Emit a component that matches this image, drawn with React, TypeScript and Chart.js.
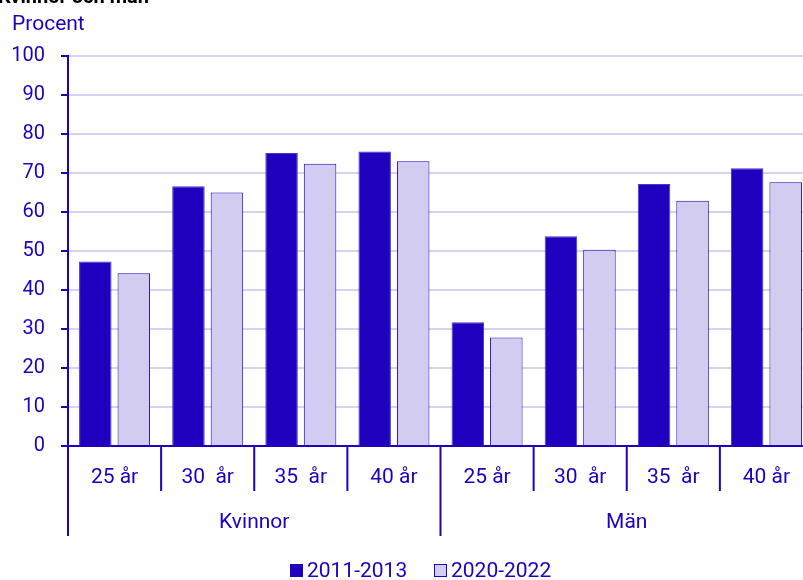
import React, { useEffect, useRef } from "react";
import { Chart, registerables } from "chart.js";

Chart.register(...registerables);

const chartTitle = "Kvinnor och män";
const yAxisTitle = "Procent";
const groups = ["Kvinnor", "Män"];
const ages = ["25 år", "30  år", "35  år", "40 år"];
const seriesNames = ["2011-2013", "2020-2022"];
const values2011 = [47.3, 66.6, 75.1, 75.5, 31.7, 53.8, 67.2, 71.2];
const values2020 = [44.3, 65.0, 72.4, 73.0, 27.8, 50.3, 62.9, 67.6];
const yTicks = [0, 10, 20, 30, 40, 50, 60, 70, 80, 90, 100];

const DARK = "#1e00be";
const LIGHT = "#d2cdf0";
const GRID = "#d6d3f2";
const FONT = "Roboto";

const categories = groups.flatMap((g) => ages.map((a) => `${g} ${a}`));

const customPlugin = {
  id: "custom",
  afterDraw(chart: any) {
    const ctx = chart.ctx;
    const x = chart.scales.x;
    const area = chart.chartArea;
    const n = categories.length;
    const half = (x.getPixelForValue(1) - x.getPixelForValue(0)) / 2;
    ctx.save();
    // title
    ctx.fillStyle = "#000";
    ctx.font = `bold 20px ${FONT}`;
    ctx.textAlign = "left";
    ctx.textBaseline = "alphabetic";
    ctx.fillText(chartTitle, -2, 3);
    // y title
    ctx.fillStyle = DARK;
    ctx.font = `21px ${FONT}`;
    ctx.fillText(yAxisTitle, 12, 30);
    // separators
    ctx.strokeStyle = DARK;
    ctx.lineWidth = 2;
    const base = area.bottom;
    for (let i = 0; i <= n; i++) {
      const px = i < n ? x.getPixelForValue(i) - half : x.getPixelForValue(n - 1) + half;
      const isGroup = i % ages.length === 0;
      ctx.beginPath();
      ctx.moveTo(px, base);
      ctx.lineTo(px, isGroup ? base + 90 : base + 45);
      ctx.stroke();
    }
    // category labels
    ctx.textAlign = "center";
    ctx.font = `21px ${FONT}`;
    ctx.fillStyle = DARK;
    for (let i = 0; i < n; i++) {
      ctx.fillText(ages[i % ages.length], x.getPixelForValue(i), base + 37);
    }
    // group labels
    groups.forEach((g, gi) => {
      const a = x.getPixelForValue(gi * ages.length) - half;
      const b = x.getPixelForValue(gi * ages.length + ages.length - 1) + half;
      ctx.fillText(g, (a + b) / 2, base + 82);
    });
    // legend
    const legendY = 577;
    const items = [
      { label: seriesNames[0], fill: DARK, x: 290 },
      { label: seriesNames[1], fill: LIGHT, x: 434 },
    ];
    ctx.textAlign = "left";
    items.forEach((it) => {
      ctx.fillStyle = it.fill;
      ctx.fillRect(it.x, legendY - 13, 13, 13);
      ctx.strokeStyle = DARK;
      ctx.lineWidth = 1;
      ctx.strokeRect(it.x + 0.5, legendY - 12.5, 12, 12);
      ctx.fillStyle = DARK;
      ctx.fillText(it.label, it.x + 17, legendY);
    });
    ctx.restore();
  },
};

export default function App() {
  const ref = useRef<HTMLCanvasElement>(null);
  useEffect(() => {
    if (!ref.current) return;
    const chart = new Chart(ref.current, {
      type: "bar",
      data: {
        labels: categories,
        datasets: [
          {
            label: seriesNames[0],
            data: values2011,
            backgroundColor: DARK,
            borderColor: "#4a36cc",
            borderWidth: 1,
            barPercentage: 0.844,
            categoryPercentage: 0.827,
          },
          {
            label: seriesNames[1],
            data: values2020,
            backgroundColor: LIGHT,
            borderColor: DARK,
            borderWidth: 1,
            barPercentage: 0.844,
            categoryPercentage: 0.827,
          },
        ],
      },
      options: {
        responsive: false,
        animation: false,
        layout: { padding: { left: 0, right: 7, top: 56, bottom: 0 } },
        plugins: {
          legend: { display: false },
          tooltip: { enabled: false },
          title: { display: false },
        },
        scales: {
          x: {
            ticks: { display: false },
            grid: { display: false },
            border: { display: true, color: DARK, width: 2 },
            afterFit: (s: any) => {
              s.height = 134;
            },
          },
          y: {
            min: 0,
            max: 100,
            afterBuildTicks: (s: any) => {
              s.ticks = yTicks.map((v) => ({ value: v }));
            },
            ticks: {
              color: DARK,
              font: { family: FONT, size: 20 },
              padding: 16,
            },
            grid: {
              color: GRID,
              lineWidth: 2,
              tickColor: DARK,
              tickLength: 7,
              tickWidth: 2,
            },
            border: { display: true, color: DARK, width: 2 },
            afterFit: (s: any) => {
              s.width = 68;
            },
          },
        },
      },
      plugins: [customPlugin],
    });
    return () => chart.destroy();
  }, []);
  return (
    <div
      style={{
        position: "absolute",
        left: 0,
        top: 0,
        width: 803,
        height: 580,
        overflow: "hidden",
        background: "#fff",
      }}
    >
      <canvas ref={ref} width={820} height={580} style={{ display: "block" }} />
    </div>
  );
}
